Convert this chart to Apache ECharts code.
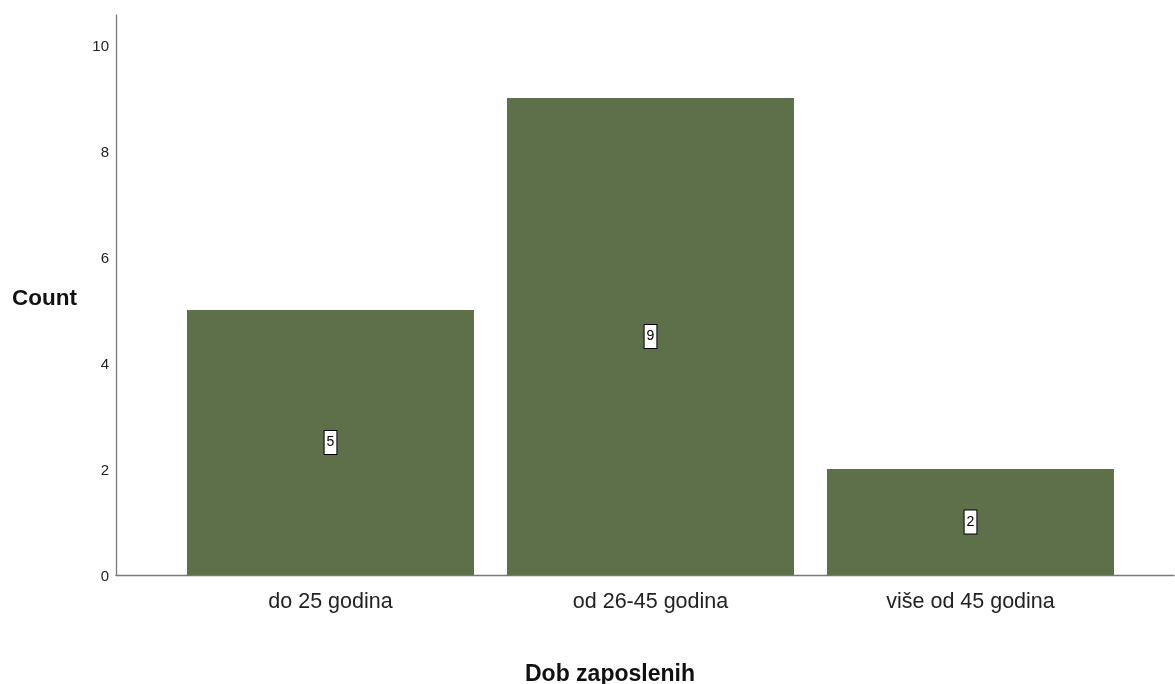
<!DOCTYPE html>
<html>
<head>
<meta charset="utf-8">
<script src="https://cdn.jsdelivr.net/npm/echarts@6/dist/echarts.min.js"></script>
<style>html,body{margin:0;padding:0;background:#fff;}#c{width:1175px;height:684px;}</style>
</head>
<body>
<div id="c"></div>
<script>
const categories = ['do 25 godina', 'od 26-45 godina', 'više od 45 godina'];
const counts = [5, 9, 2];
const yTicks = [0, 2, 4, 6, 8, 10];
const yTitle = 'Count';
const xTitle = 'Dob zaposlenih';

const FONT = 'Arial, "Liberation Sans", sans-serif';
const chart = echarts.init(document.getElementById('c'));
chart.setOption({
  animation: false,
  backgroundColor: '#fff',
  grid: [
    { left: 116, right: 1, top: 15, bottom: 109 },
    { left: 170.5, right: 44.5, top: 15, bottom: 109 }
  ],
  xAxis: [
    { gridIndex: 0, type: 'value', min: 0, max: 1, axisLine: { show: true, onZero: false, lineStyle: { color: '#7a7a7a', width: 1.3 } },
      axisTick: { show: false }, axisLabel: { show: false }, splitLine: { show: false } },
    { gridIndex: 1, type: 'category', data: categories, axisLine: { show: false }, axisTick: { show: false },
      axisLabel: { fontFamily: FONT, fontSize: 21.5, color: '#222', margin: 16 }, splitLine: { show: false } }
  ],
  yAxis: [
    { gridIndex: 0, type: 'value', min: 0, max: 10.566, interval: 2,
      axisLine: { show: true, lineStyle: { color: '#7a7a7a', width: 1.3 } }, axisTick: { show: false },
      axisLabel: { margin: 7,
        formatter: v => yTicks.includes(v) ? '{t|' + v + '}' : '',
        rich: { t: { fontFamily: FONT, fontSize: 15, color: '#222', padding: [4, 0, 0, 0] } } },
      splitLine: { show: false } },
    { gridIndex: 1, type: 'value', min: 0, max: 10.566, show: false }
  ],
  graphic: [
    { type: 'text', left: 12, top: 287, style: { text: yTitle, fontFamily: FONT, fontSize: 22.5, fontWeight: 'bold', fill: '#111' } },
    { type: 'text', left: 525, top: 663, style: { text: xTitle, fontFamily: FONT, fontSize: 23, fontWeight: 'bold', fill: '#111' } }
  ],
  series: [{
    type: 'bar', xAxisIndex: 1, yAxisIndex: 1, data: counts, barWidth: 287,
    itemStyle: { color: '#5e7049' },
    label: { show: true, position: 'inside', fontFamily: FONT, fontSize: 14, color: '#000',
      backgroundColor: '#fff', borderColor: '#000', borderWidth: 1, padding: [5, 2, 4, 2] }
  }]
});
</script>
</body>
</html>
